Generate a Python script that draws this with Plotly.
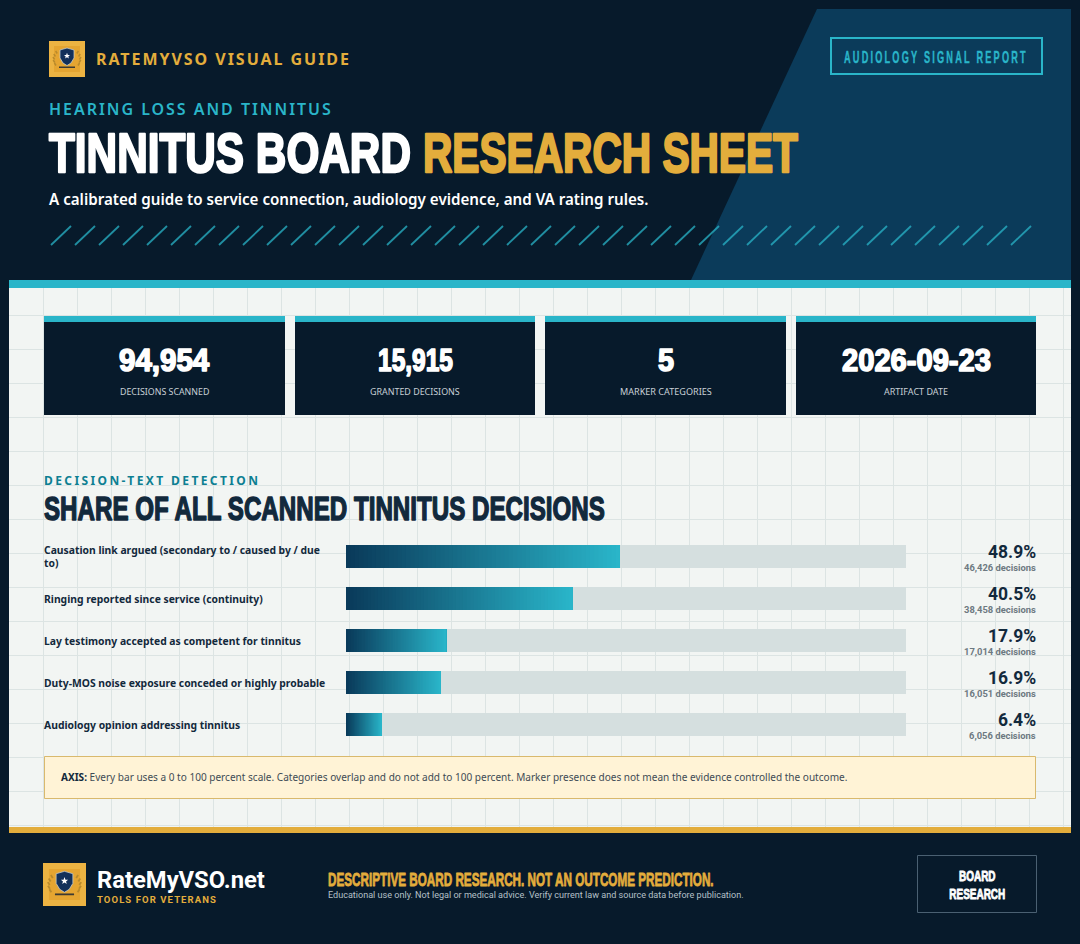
import json
import plotly.graph_objects as go

categories = [
    "Causation link argued (secondary to / caused by / due to)",
    "Ringing reported since service (continuity)",
    "Lay testimony accepted as competent for tinnitus",
    "Duty-MOS noise exposure conceded or highly probable",
    "Audiology opinion addressing tinnitus",
]
category_lines = [
    "Causation link argued (secondary to / caused by / due<br>to)",
    "Ringing reported since service (continuity)",
    "Lay testimony accepted as competent for tinnitus",
    "Duty-MOS noise exposure conceded or highly probable",
    "Audiology opinion addressing tinnitus",
]
percent_values = [48.9, 40.5, 17.9, 16.9, 6.4]
decision_counts = [46426, 38458, 17014, 16051, 6056]
kpi_values = ["94,954", "15,915", "5", "2026-09-23"]
kpi_labels = ["DECISIONS SCANNED", "GRANTED DECISIONS", "MARKER CATEGORIES", "ARTIFACT DATE"]

W, H = 1080, 944
NAVY = "#071a2b"
PANEL = "#f2f5f3"
TEAL = "#2ab5c9"
GOLD = "#e3ad3c"
INK = "#12293c"
BODY = "Noto Sans, sans-serif"
TIGHT = "Roboto, sans-serif"
COND = "Liberation Sans Narrow, Liberation Sans, sans-serif"


def X(p):
    return p / W


def Y(p):
    return 1 - p / H


shapes = []
annotations = []
fit = {}


def rect(x0, y0, x1, y1, fill=None, line=None, lw=0):
    shapes.append(dict(type="rect", xref="paper", yref="paper", layer="below",
                       x0=X(x0), x1=X(x1), y0=Y(y0), y1=Y(y1),
                       fillcolor=fill or "rgba(0,0,0,0)",
                       line=dict(color=line or "rgba(0,0,0,0)", width=lw)))


def seg(x0, y0, x1, y1, color, lw=1):
    shapes.append(dict(type="line", xref="paper", yref="paper", layer="below",
                       x0=X(x0), x1=X(x1), y0=Y(y0), y1=Y(y1),
                       line=dict(color=color, width=lw)))


def poly(points, fill, line=None, lw=0):
    d = "M" + " L".join(f"{X(a):.5f},{Y(b):.5f}" for a, b in points) + " Z"
    shapes.append(dict(type="path", xref="paper", yref="paper", layer="below", path=d,
                       fillcolor=fill, line=dict(color=line or "rgba(0,0,0,0)", width=lw)))


def txt(text, x, y, size, color, family=BODY, weight=400, anchor="left",
        width=None, mode="glyphs", stroke=0, track=0, sy=1, key=None):
    """width: final ink width in px; mode 'spacing' tracks letters, 'glyphs' scales them."""
    annotations.append(dict(text=text, x=X(x), y=Y(y), xref="paper", yref="paper",
                            xanchor=anchor, yanchor="middle", align=anchor, showarrow=False,
                            borderpad=0, borderwidth=0,
                            font=dict(size=size, color=color, family=family, weight=weight)))
    fit[key or text] = dict(w=width, m=mode, s=stroke, t=track, sy=sy)


def logo(x, y, size):
    s = size / 36
    cx, cy = x + size / 2, y + size / 2
    rect(x, y, x + size, y + size, "#ecb342")
    rect(x + 5 * s, y + 5 * s, x + size - 5 * s, y + size - 5 * s, "#e5a531")
    laurel = "#b98a2c"
    for sgn in (-1, 1):
        for dx, dy in [(11, 5), (12.2, 2), (12.4, -1), (11.6, -4), (9.8, -7)]:
            seg(cx + sgn * dx * s, cy + (dy + 1.5) * s, cx + sgn * (dx + 1.6) * s, cy + (dy - 1) * s,
                laurel, max(1, 1.5 * s))
    poly([(cx - 7 * s, cy - 9 * s), (cx, cy - 11 * s), (cx + 7 * s, cy - 9 * s), (cx + 7 * s, cy - 1 * s),
          (cx + 4 * s, cy + 4 * s), (cx, cy + 6.5 * s), (cx - 4 * s, cy + 4 * s), (cx - 7 * s, cy - 1 * s)],
         "#12305a", "#c9d2d8", 0.7)
    pts = []
    for ax, ay in [(0, -3.2), (.8, -1), (3, -1), (1.3, .4), (1.9, 2.6), (0, 1.3),
                   (-1.9, 2.6), (-1.3, .4), (-3, -1), (-.8, -1)]:
        pts.append((cx + ax * s, cy - 3 * s + ay * s))
    poly(pts, "#ffffff")
    rect(cx - 8 * s, cy + 7.5 * s, cx + 8 * s, cy + 9 * s, "#3d3a33")


# page frame
rect(9, 288, 1071, 827, PANEL)
for gx in range(9 + 34, 1071, 34):
    seg(gx + 0.5, 288, gx + 0.5, 827, "#dce4e3", 1)
for gy in range(9 + 34 * 9, 827, 34):
    seg(9, gy + 0.5, 1071, gy + 0.5, "#dce4e3", 1)
poly([(817, 9), (1071, 9), (1071, 280), (691, 280)], "#0b3b5a")
rect(9, 280, 1071, 288, TEAL)
rect(9, 827, 1071, 833, GOLD)

# slashes
for k in range(41):
    sx = 51 + k * 24
    seg(sx, 245, sx + 20, 226, "rgba(42,181,201,0.75)", 1.8)

# header
logo(49, 41, 36)
txt("RATEMYVSO VISUAL GUIDE", 96, 59, 16, GOLD, BODY, 700, width=253, mode="spacing")
txt("HEARING LOSS AND TINNITUS", 49, 109, 16, TEAL, BODY, 600, width=282, mode="spacing")
txt("TINNITUS BOARD", 49, 152, 56, "#ffffff", COND, 700, width=362, stroke=2.4)
txt("RESEARCH SHEET", 423, 152, 56, GOLD, COND, 700, width=375, stroke=2.4)
txt("A calibrated guide to service connection, audiology evidence, and VA rating rules.", 49, 199, 16,
    "#ffffff", BODY, 600, width=600)
rect(831, 38, 1042, 74, None, TEAL, 2)
txt("AUDIOLOGY SIGNAL REPORT", 844, 57, 16.5, TEAL, COND, 700, width=184, stroke=0.4, track=4)

# KPI cards
card_x = [44, 295, 545, 796]
card_w = [241, 240, 241, 240]
value_w = [91, 75, 16, 149]
label_w = [90, 90, 92, 64]
for cx0, cw, val, lab, vw, lw_ in zip(card_x, card_w, kpi_values, kpi_labels, value_w, label_w):
    rect(cx0, 316, cx0 + cw, 415, NAVY)
    rect(cx0, 316, cx0 + cw, 322, TEAL)
    mid = cx0 + cw / 2
    txt(val, mid - vw / 2, 360, 31, "#ffffff", COND, 700, width=vw, stroke=1.6)
    txt(lab, mid - lw_ / 2, 391.5, 9, "#c7d0d6", BODY, 400, width=lw_)

# section heading
txt("DECISION-TEXT DETECTION", 44, 480, 12, "#0d7f92", BODY, 700, width=214, mode="spacing")
txt("SHARE OF ALL SCANNED TINNITUS DECISIONS", 44, 508, 34, INK, COND, 700, width=561, stroke=1.5)

# axis note
rect(44.5, 756.5, 1035.5, 798.5, "#fff3d6", "#d9b96d", 1)
txt(f"<span style='color:{INK}'><b>AXIS:</b></span> Every bar uses a 0 to 100 percent scale. Categories overlap "
    "and do not add to 100 percent. Marker presence does not mean the evidence controlled the outcome.",
    61, 777, 10.5, "#3e4b55", BODY, 400, width=788,
    key="AXIS: Every bar uses a 0 to 100 percent scale. Categories overlap and do not add to 100 percent. "
        "Marker presence does not mean the evidence controlled the outcome.")

# footer
logo(43, 863, 43)
txt("RateMyVSO.net", 97, 879.5, 24, "#ffffff", TIGHT, 700, width=168)
txt("TOOLS FOR VETERANS", 97, 899.5, 9.5, GOLD, TIGHT, 700, width=119, mode="spacing")
txt("DESCRIPTIVE BOARD RESEARCH. NOT AN OUTCOME PREDICTION.", 328, 879, 19, GOLD, COND, 700, width=386, stroke=0.8)
txt("Educational use only. Not legal or medical advice. Verify current law and source data before publication.",
    328, 894.5, 9.7, "#b5c0c8", TIGHT, 400, width=416)
rect(917.5, 855.5, 1036.5, 912.5, None, "#4a6072", 1)
txt("BOARD<br>RESEARCH", 977, 885, 14, "#ffffff", COND, 700, anchor="center", stroke=0.8,
    width=56, sy=1, key="BOARDRESEARCH")

# rows: labels and values tied to the y axis
for cat, line, pct, cnt in zip(categories, category_lines, percent_values, decision_counts):
    annotations.append(dict(text=line, x=X(44), y=cat, xref="paper", yref="y", xanchor="left", yanchor="middle",
                            align="left", showarrow=False, borderpad=0, borderwidth=0,
                            font=dict(size=10.35, color=INK, family=BODY, weight=700)))
    annotations.append(dict(text=f"{pct:.1f}%", x=X(1036), y=cat, xref="paper", yref="y", yshift=5,
                            xanchor="right", yanchor="middle", align="right", showarrow=False,
                            borderpad=0, borderwidth=0,
                            font=dict(size=17.5, color=INK, family=TIGHT, weight=700)))
    annotations.append(dict(text=f"{cnt:,} decisions", x=X(1036), y=cat, xref="paper", yref="y", yshift=-11,
                            xanchor="right", yanchor="middle", align="right", showarrow=False,
                            borderpad=0, borderwidth=0,
                            font=dict(size=9.4, color="#6d7981", family=TIGHT, weight=700)))

# bars
BAR = 23 / 42
fig = go.Figure()
fig.add_bar(y=categories, x=[100] * len(categories), orientation="h", width=BAR,
            marker=dict(color="#d5dfdf", line=dict(width=0)), hoverinfo="skip", name="Scale")
fig.add_bar(y=categories, x=percent_values, orientation="h", width=BAR,
            marker=dict(color="#0a3a5a", line=dict(width=0)), name="Share of decisions")
STEPS = 64
c0, c1 = (10, 58, 90), (42, 183, 203)
for k in range(1, STEPS):
    t = k / STEPS
    col = "rgb(" + ",".join(str(round(a + (b - a) * t)) for a, b in zip(c0, c1)) + ")"
    fig.add_bar(y=categories, base=[v * t for v in percent_values], x=[v * (1 - t) for v in percent_values],
                orientation="h", width=BAR, marker=dict(color=col, line=dict(width=0)), hoverinfo="skip")

fig.update_layout(
    width=W, height=H, autosize=False, margin=dict(l=0, r=0, t=0, b=0, pad=0),
    paper_bgcolor=NAVY, plot_bgcolor="rgba(0,0,0,0)", barmode="overlay", showlegend=False,
    shapes=shapes, annotations=annotations,
    xaxis=dict(domain=[X(346), X(906)], range=[0, 100], visible=False, fixedrange=True),
    yaxis=dict(domain=[Y(745.5), Y(535.5)], range=[4.5, -0.5], type="category",
               categoryorder="array", categoryarray=categories, visible=False, fixedrange=True),
)

post = """
document.body.style.margin='0';
document.documentElement.style.overflow='hidden';
var gd=document.getElementById('{plot_id}');
var FIT=%s;
gd.querySelectorAll('.annotation-text').forEach(function(t){
  var s=FIT[t.textContent]; if(!s) return;
  if(s.t){t.style.letterSpacing=s.t+'px';}
  if(s.s){
    [t].concat(Array.from(t.querySelectorAll('tspan'))).forEach(function(e){
      e.style.stroke=getComputedStyle(e).fill;e.style.strokeWidth=s.s+'px';e.style.strokeLinejoin='round';
    });
  }
  var b=t.getBBox();
  if(s.w && s.m==='spacing'){
    t.style.letterSpacing=((s.w-b.width)/(t.textContent.length-1))+'px';
  } else if(s.w){
    var sx=s.w/b.width, ox=b.x+(t.getAttribute('text-anchor')==='middle'?b.width/2:0), oy=b.y+b.height/2;
    t.setAttribute('transform','translate('+ox+' '+oy+') scale('+sx+' '+s.sy+') translate('+(-ox)+' '+(-oy)+')');
  }
});
""" % json.dumps(fit)

fig.write_html("out.html", config={"displayModeBar": False}, post_script=post)
